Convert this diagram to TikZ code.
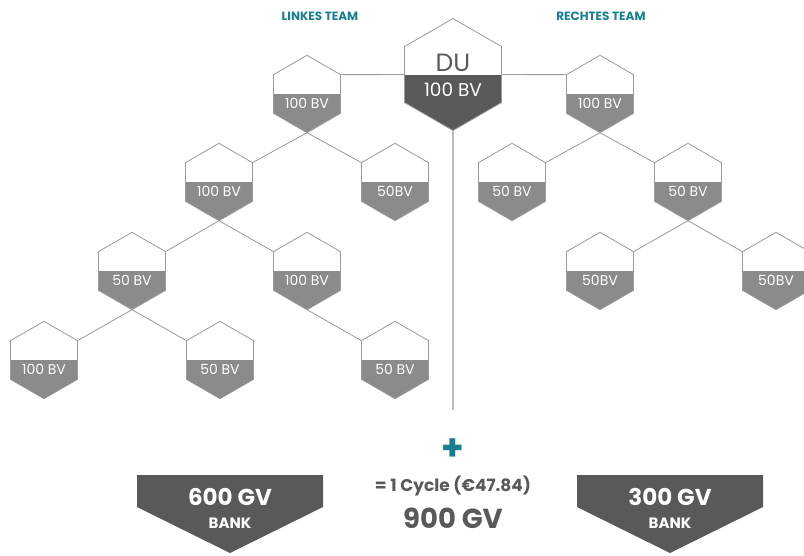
\documentclass[tikz,border=0pt]{standalone}
\usepackage{fontspec}
\setmainfont{Poppins}
\usepackage{tikz}
\usetikzlibrary{positioning, shapes.geometric}
\usepackage{xcolor}
\pgfdeclarelayer{bg}
\pgfsetlayers{bg,main}

\definecolor{teamteal}{HTML}{17808F}
\definecolor{darkslate}{HTML}{58595B}
\definecolor{hexgray}{HTML}{8A8C8C}
\definecolor{hexline}{HTML}{999A9A}
\definecolor{stemgray}{HTML}{BDBDBD}

\begin{document}
\begin{tikzpicture}[x=1pt, y=-1pt,
    hexbox/.style={regular polygon, regular polygon sides=6, shape border rotate=30,
      minimum size=77.4pt, inner sep=0pt, outer sep=0pt, draw=hexline, line width=.8pt,
      fill=white,
      path picture={\fill[hexgray] (path picture bounding box.west) rectangle (path picture bounding box.south east);},
      label={[hexlabel]center:#1}},
    hexlabel/.style={text=white, yshift=-9pt, font=\fontsize{14}{15}\selectfont},
    dubox/.style={regular polygon, regular polygon sides=6, shape border rotate=30,
      minimum size=112pt, inner sep=0pt, outer sep=0pt, draw=hexline, line width=.8pt,
      fill=white,
      path picture={\fill[darkslate] (path picture bounding box.west) rectangle (path picture bounding box.south east);}},
    link/.style={draw=hexline, line width=.8pt},
    team/.style={text=teamteal, font=\bfseries\fontsize{12}{13}\selectfont},
    banktxt/.style={text=white, font=\bfseries\fontsize{23}{25}\selectfont},
    banksub/.style={text=white, font=\bfseries\fontsize{15}{16}\selectfont},
  ]
  \useasboundingbox (0,0) rectangle (804,555);

  % headers
  \node[team] (linkes) at (320,16) {LINKES TEAM};
  \node[team] (rechtes) at (601,16) {RECHTES TEAM};

  % top
  \node[dubox,
    label={[text=darkslate, yshift=12pt, font=\fontsize{25}{27}\selectfont]center:DU},
    label={[text=white, yshift=-15pt, font=\fontsize{18.5}{20}\selectfont]center:100 BV}]
    (du) at (453,74.5) {};

  % left team
  \node[hexbox=100 BV] (l1) at (307,94) {};
  \node[hexbox=100 BV] (l2) at (219,182) {};
  \node[hexbox=50BV] (l3) at (395,182) {};
  \node[hexbox=50 BV] (l4) at (132,271) {};
  \node[hexbox=100 BV] (l5) at (307,271) {};
  \node[hexbox=100 BV] (l6) at (44,360) {};
  \node[hexbox=50 BV] (l7) at (220,360) {};
  \node[hexbox=50 BV] (l8) at (395,360) {};

  % right team
  \node[hexbox=100 BV] (r1) at (600,94) {};
  \node[hexbox=50 BV] (r2) at (512,182) {};
  \node[hexbox=50 BV] (r3) at (688,182) {};
  \node[hexbox=50BV] (r4) at (600,271) {};
  \node[hexbox=50BV] (r5) at (776,271) {};

  \coordinate (stem) at (453,410);

  \begin{pgfonlayer}{bg}
    \draw[draw=stemgray, line width=1.2pt] (du.center) -- (stem);
    \draw[link] (du.center) -- (l1.30);
    \draw[link] (du.center) -- (r1.150);
    \foreach \p/\c/\a in {l1/l2/30, l1/l3/150, l2/l4/30, l2/l5/150, l4/l6/30, l4/l7/150,
        l5/l8/150, r1/r2/30, r1/r3/150, r3/r4/30, r3/r5/150}
      \draw[link] (\p.south) -- (\c.\a);
  \end{pgfonlayer}

  % banks
  \fill[darkslate] (137,475) -- (323,475) -- (323,507) -- (230,553) -- (137,507) -- cycle;
  \node[banktxt] (bankl) at (230,497) {600 GV};
  \node[banksub] (banklsub) at (230,523) {BANK};
  \fill[darkslate] (577,475) -- (763,475) -- (763,507) -- (670,553) -- (577,507) -- cycle;
  \node[banktxt] (bankr) at (670,497) {300 GV};
  \node[banksub] (bankrsub) at (670,523) {BANK};

  % total
  \node[text=teamteal, font=\bfseries\fontsize{36}{36}\selectfont] (plus) at (453,450) {+};
  \node[text=darkslate, font=\bfseries\fontsize{17}{19}\selectfont] (cycle) at (453,486) {= 1 Cycle (€47.84)};
  \node[text=darkslate, font=\bfseries\fontsize{27.5}{29}\selectfont] (total) at (453,518) {900 GV};
\end{tikzpicture}
\end{document}
